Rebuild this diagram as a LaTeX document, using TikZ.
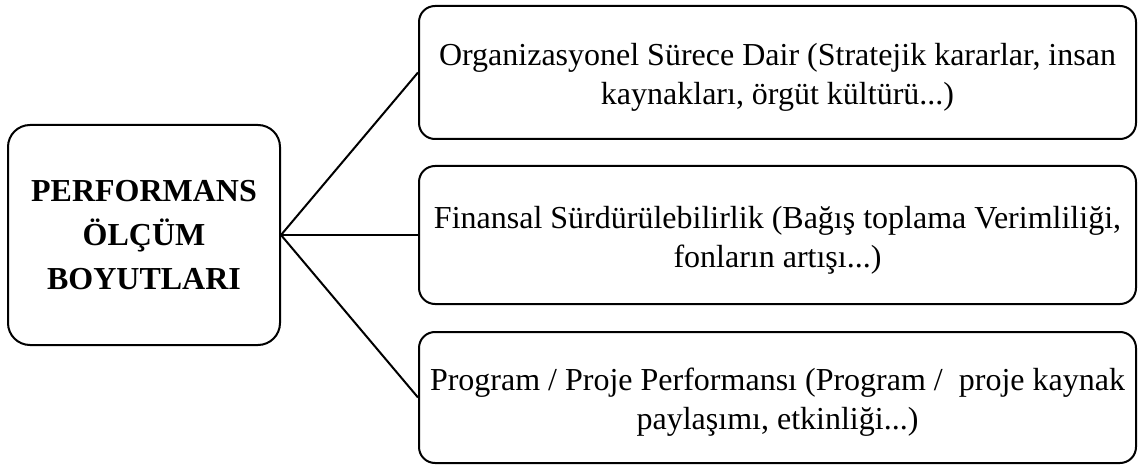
\documentclass[tikz,border=0pt]{standalone}
\usepackage{fontspec}
\setmainfont{Liberation Serif}
\begin{document}
\begin{tikzpicture}[x=1pt,y=-1pt,
  box/.style={draw=black, line width=2pt, rounded corners=16pt, inner sep=0pt},
  boxtext/.style={inner sep=0pt, align=center, font=\fontsize{32}{39}\selectfont},
  mainbox/.style={draw=black, line width=2pt, rounded corners=22pt, inner sep=0pt, align=center,
    font=\fontsize{32}{44}\selectfont\bfseries},
  conn/.style={draw=black, line width=2pt}]
\useasboundingbox (0,0) rectangle (1140,465);
\node[mainbox, minimum width=272pt, minimum height=220pt] (main) at (144,235)
  {PERFORMANS\\ÖLÇÜM\\BOYUTLARI};
\node[box, minimum width=717pt, minimum height=133pt] (r1) at (777.5,72.5) {};
\node[box, minimum width=717pt, minimum height=138pt] (r2) at (777.5,235) {};
\node[box, minimum width=717pt, minimum height=131pt] (r3) at (777.5,397.5) {};
\node[boxtext] (t1) at ([yshift=-5pt]r1.center)
  {Organizasyonel Sürece Dair (Stratejik kararlar, insan\\kaynakları, örgüt kültürü...)};
\node[boxtext] (t2) at ([yshift=-5pt]r2.center)
  {Finansal Sürdürülebilirlik (Bağış toplama Verimliliği,\\fonların artışı...)};
\node[boxtext] (t3) at ([yshift=-5pt]r3.center)
  {Program / Proje Performansı (Program /~ proje kaynak\\paylaşımı, etkinliği...)};
\draw[conn] (main.east) -- (r1.west);
\draw[conn] (main.east) -- (r2.west);
\draw[conn] (main.east) -- (r3.west);
\end{tikzpicture}
\end{document}
